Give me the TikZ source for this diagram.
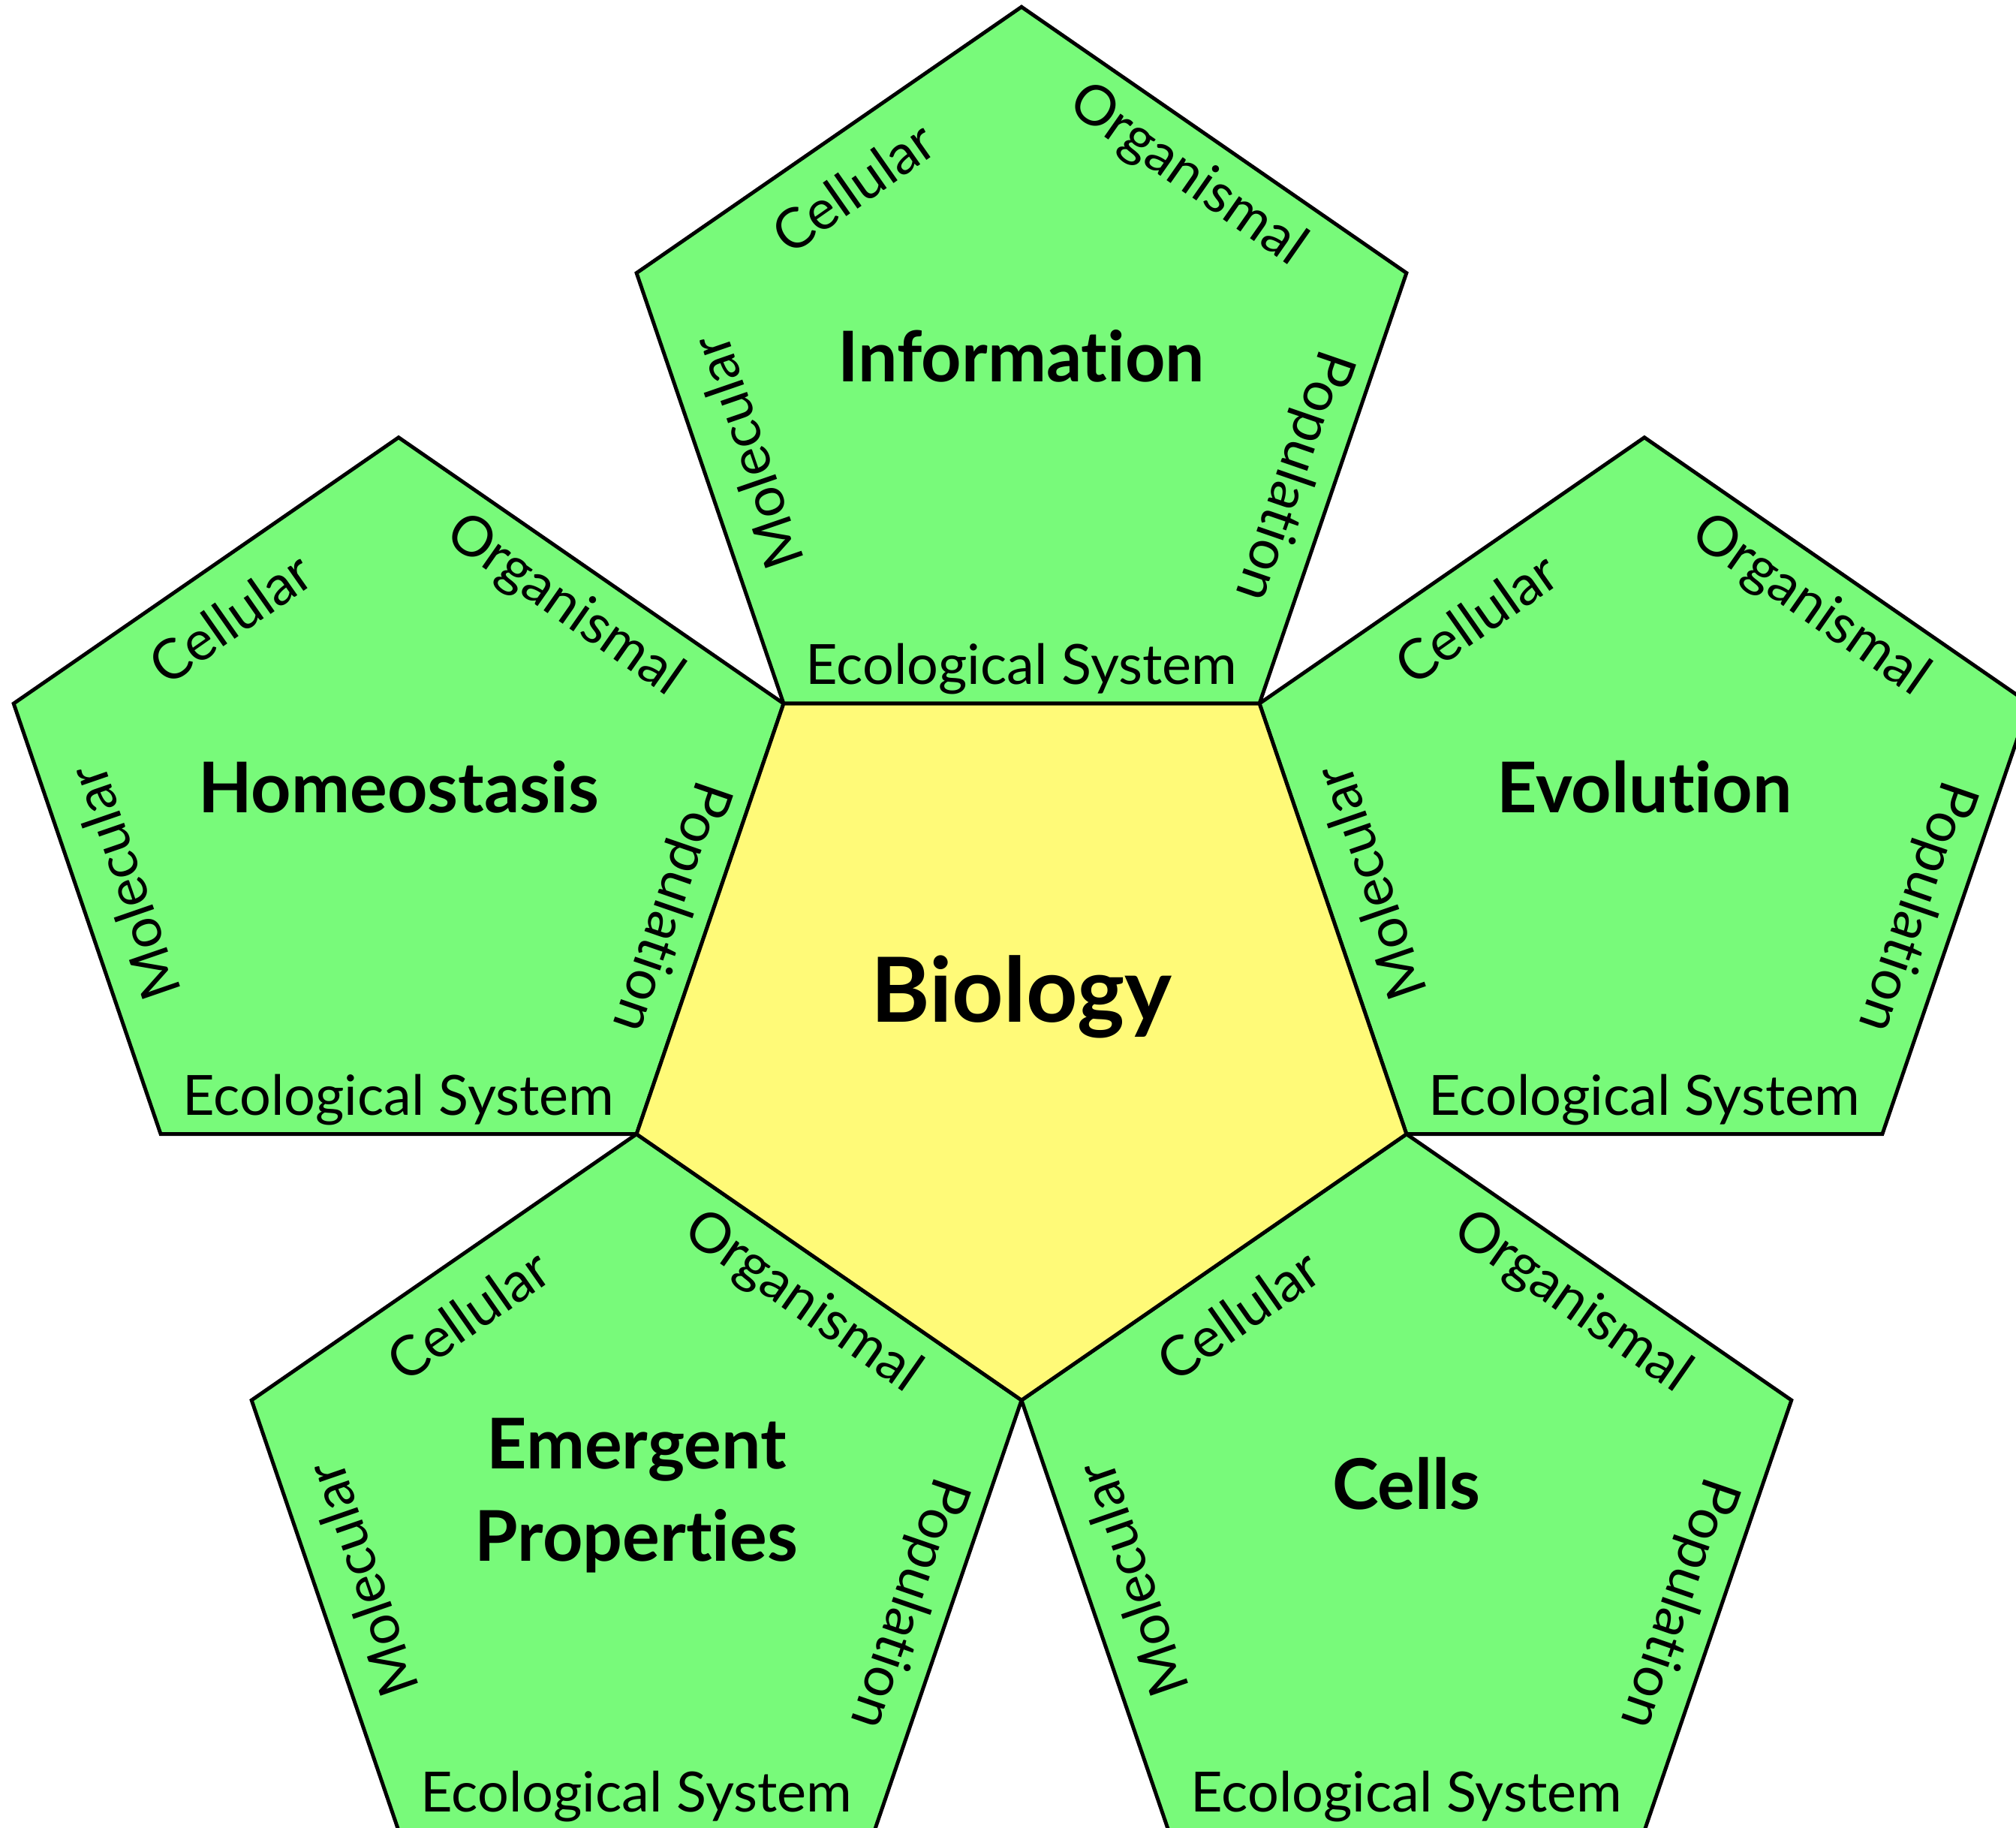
\documentclass[tikz,border=0pt]{standalone}
\usepackage{fontspec}
\setmainfont{Lato}[Ligatures={NoCommon}]

\definecolor{leafgreen}{RGB}{120,250,122}
\definecolor{coreyellow}{RGB}{255,250,120}

\tikzset{
  face/.style={draw=black, line width=1.4pt, line join=miter},
  topic/.style={font=\fontsize{26.5}{35}\selectfont\bfseries, align=center},
  level/.style={font=\fontsize{21}{24}\selectfont, inner sep=0pt},
}

\begin{document}
\begin{tikzpicture}[x=0.01cm, y=0.0095cm]
  \useasboundingbox (-1361,-1138.4) rectangle (1325,1421.6);

  % petals: upright pentagons around the centre
  \foreach \name/\ang/\dy/\title in {info/90/50/Information, evol/18/50/Evolution, cells/-54/50/Cells, emerg/-126/33/{Emergent\\Properties}, homeo/162/50/Homeostasis}
  {
    \begin{scope}[shift={(\ang:872.6)}]
      \draw[face, fill=leafgreen] (90:539.3) -- (18:539.3) -- (-54:539.3) -- (-126:539.3) -- (162:539.3) -- cycle;
      \node[topic] (\name) at (0,\dy) {\title};
      \node[level, rotate=35] (\name-cel) at (128:364) {Cellular};
      \node[level, rotate=-35] (\name-org) at (54:375) {Organismal};
      \node[level, rotate=-109] (\name-pop) at (-18:380) {Population};
      \node[level, rotate=109] (\name-mol) at (193:376) {Molecular};
      \node[level] (\name-eco) at (-90:388) {Ecological System};
    \end{scope}
  }

  % centre
  \draw[face, fill=coreyellow] (54:539.3) -- (-18:539.3) -- (-90:539.3) -- (198:539.3) -- (126:539.3) -- cycle;
  \node[font=\fontsize{34}{40}\selectfont\bfseries] (bio) at (0,26) {Biology};
\end{tikzpicture}
\end{document}
